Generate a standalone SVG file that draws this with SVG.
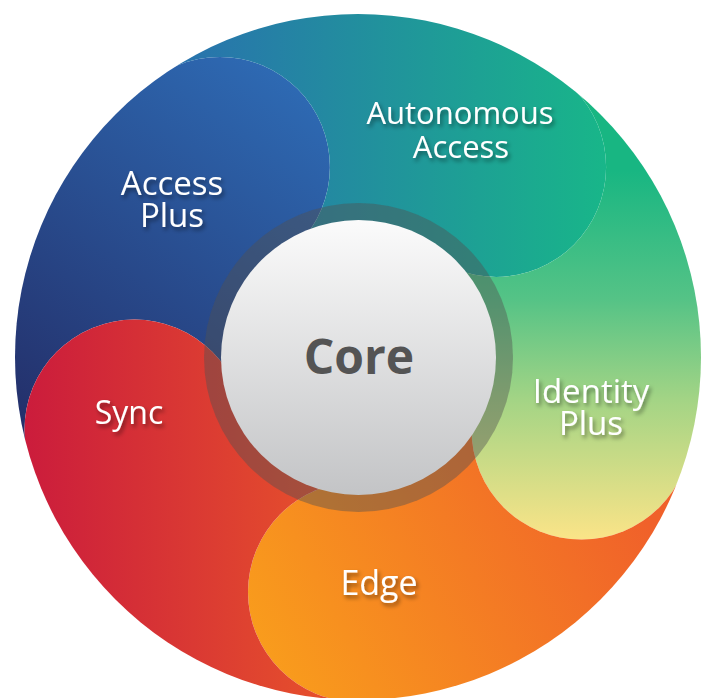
<svg xmlns="http://www.w3.org/2000/svg" width="707" height="698" viewBox="0 0 707 698">
  <style>
    .lbl { font-family: "Open Sans", "Liberation Sans", sans-serif; font-size: 31px; fill: #ffffff; text-anchor: middle; filter: url(#shadow); }
    .core { font-family: "Open Sans", "Liberation Sans", sans-serif; font-size: 48px; font-weight: bold; fill: #545454; text-anchor: middle; }
  </style>
  <defs>
    <filter id="shadow" x="-20%" y="-30%" width="140%" height="170%">
      <feDropShadow dx="2" dy="3" stdDeviation="2" flood-color="#000" flood-opacity="0.45"/>
    </filter>
    <linearGradient id="g-blue" gradientUnits="userSpaceOnUse" x1="40" y1="470" x2="320" y2="80">
      <stop offset="0" stop-color="#232c66"/>
      <stop offset="1" stop-color="#2e6cb6"/>
    </linearGradient>
    <linearGradient id="g-teal" gradientUnits="userSpaceOnUse" x1="150" y1="0" x2="606" y2="0">
      <stop offset="0" stop-color="#2a6db0"/>
      <stop offset="1" stop-color="#18b689"/>
    </linearGradient>
    <linearGradient id="g-green" gradientUnits="userSpaceOnUse" x1="0" y1="170" x2="0" y2="540">
      <stop offset="0" stop-color="#18b682"/>
      <stop offset="0.35" stop-color="#55c386"/>
      <stop offset="0.62" stop-color="#a3d485"/>
      <stop offset="1" stop-color="#fbe488"/>
    </linearGradient>
    <linearGradient id="g-orange" gradientUnits="userSpaceOnUse" x1="260" y1="660" x2="620" y2="470">
      <stop offset="0" stop-color="#f99d1c"/>
      <stop offset="1" stop-color="#f0612a"/>
    </linearGradient>
    <linearGradient id="g-red" gradientUnits="userSpaceOnUse" x1="25" y1="0" x2="360" y2="0">
      <stop offset="0" stop-color="#cb1c3c"/>
      <stop offset="1" stop-color="#e9562a"/>
    </linearGradient>
    <linearGradient id="g-core" x1="0" y1="0" x2="0" y2="1">
      <stop offset="0" stop-color="#fbfbfb"/>
      <stop offset="1" stop-color="#c3c4c6"/>
    </linearGradient>
    <mask id="m-blue" maskUnits="userSpaceOnUse" x="0" y="0" width="707" height="698">
      <path d="M358,357 L-117.6,511.5 L-117.6,202.5 L64.1,-47.5 Z" fill="#fff"/>
      <circle cx="219.9" cy="166.9" r="110" fill="#fff"/>
      <circle cx="134.5" cy="429.6" r="110" fill="#000"/>
    </mask>
    <mask id="m-teal" maskUnits="userSpaceOnUse" x="0" y="0" width="707" height="698">
      <path d="M358,357 L64.1,-47.5 L358,-143 L651.9,-47.5 Z" fill="#fff"/>
      <circle cx="496.1" cy="166.9" r="110" fill="#fff"/>
      <circle cx="219.9" cy="166.9" r="110" fill="#000"/>
    </mask>
    <mask id="m-green" maskUnits="userSpaceOnUse" x="0" y="0" width="707" height="698">
      <path d="M358,357 L651.9,-47.5 L833.6,202.5 L833.6,511.5 Z" fill="#fff"/>
      <circle cx="581.5" cy="429.6" r="110" fill="#fff"/>
      <circle cx="496.1" cy="166.9" r="110" fill="#000"/>
    </mask>
    <mask id="m-orange" maskUnits="userSpaceOnUse" x="0" y="0" width="707" height="698">
      <path d="M358,357 L833.6,511.5 L651.9,761.5 L358,857 Z" fill="#fff"/>
      <circle cx="358" cy="592" r="110" fill="#fff"/>
      <circle cx="581.5" cy="429.6" r="110" fill="#000"/>
    </mask>
    <mask id="m-red" maskUnits="userSpaceOnUse" x="0" y="0" width="707" height="698">
      <path d="M358,357 L358,857 L64.1,761.5 L-117.6,511.5 Z" fill="#fff"/>
      <circle cx="134.5" cy="429.6" r="110" fill="#fff"/>
      <circle cx="358" cy="592" r="110" fill="#000"/>
    </mask>
  </defs>

  <g id="access-plus">
    <circle cx="358" cy="357" r="343" fill="url(#g-blue)" mask="url(#m-blue)"/>
    <text class="lbl" style="font-size:33px"><tspan x="172" y="195">Access</tspan><tspan x="172" y="227">Plus</tspan></text>
  </g>
  <g id="autonomous-access">
    <circle cx="358" cy="357" r="343" fill="url(#g-teal)" mask="url(#m-teal)"/>
    <text class="lbl"><tspan x="460" y="124">Autonomous</tspan><tspan x="461" y="158">Access</tspan></text>
  </g>
  <g id="identity-plus">
    <circle cx="358" cy="357" r="343" fill="url(#g-green)" mask="url(#m-green)"/>
    <text class="lbl" style="font-size:33px"><tspan x="591" y="403">Identity</tspan><tspan x="591" y="435">Plus</tspan></text>
  </g>
  <g id="edge">
    <circle cx="358" cy="357" r="343" fill="url(#g-orange)" mask="url(#m-orange)"/>
    <text class="lbl" style="font-size:34px" x="379" y="595">Edge</text>
  </g>
  <g id="sync">
    <circle cx="358" cy="357" r="343" fill="url(#g-red)" mask="url(#m-red)"/>
    <text class="lbl" style="font-size:32px" x="129" y="424">Sync</text>
  </g>

  <g id="connectors"></g>

  <g id="core">
    <circle cx="358.5" cy="357.5" r="154.5" fill="#515151" fill-opacity="0.43"/>
    <circle cx="358.5" cy="357.5" r="137.5" fill="url(#g-core)"/>
    <text class="core" x="359" y="374">Core</text>
  </g>
</svg>
